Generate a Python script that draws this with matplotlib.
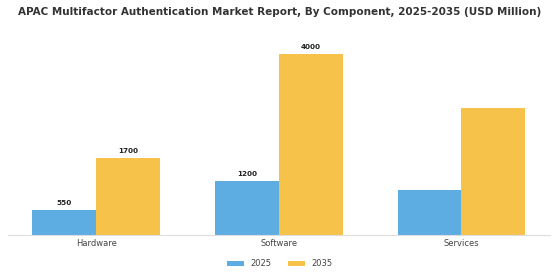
import numpy as np
import matplotlib
matplotlib.use("Agg")
import matplotlib.pyplot as plt

# data
categories = ["Hardware", "Software", "Services"]
values_2025 = [550, 1200, 1000]
values_2035 = [1700, 4000, 2800]
labels_2025 = ["550", "1200", ""]
labels_2035 = ["1700", "4000", ""]

blue = "#5DADE2"
yellow = "#F7C24A"

fig = plt.figure(figsize=(5.6, 2.8), dpi=100)
ax = fig.add_axes([0.014, 0.161, 0.968, 0.678])

x = np.arange(len(categories))
w = 0.35
b1 = ax.bar(x - w / 2, values_2025, w, color=blue, label="2025")
b2 = ax.bar(x + w / 2, values_2035, w, color=yellow, label="2035")

for bars, labs in [(b1, labels_2025), (b2, labels_2035)]:
    for bar, lab in zip(bars, labs):
        if lab:
            ax.text(bar.get_x() + bar.get_width() / 2, bar.get_height() + 90, lab,
                    ha="center", va="bottom", fontsize=5.2, fontweight="bold", color="#222222")

ax.set_xticks(x)
ax.set_xticklabels(categories, fontsize=6, color="#444444")
ax.tick_params(axis="x", length=0, pad=3)
ax.set_yticks([])
for s in ["top", "right", "left"]:
    ax.spines[s].set_visible(False)
ax.spines["bottom"].set_color("#dddddd")
ax.spines["bottom"].set_linewidth(0.8)

fig.suptitle("APAC Multifactor Authentication Market Report, By Component, 2025-2035 (USD Million)",
             fontsize=7.5, fontweight="bold", color="#333333", y=0.975)

fig.legend(loc="lower center", ncol=2, frameon=False, fontsize=6,
           bbox_to_anchor=(0.5, 0.015), handlelength=2.0, handleheight=0.5,
           columnspacing=2.0, labelcolor="#444444")

fig.savefig("out.png", dpi=100)
